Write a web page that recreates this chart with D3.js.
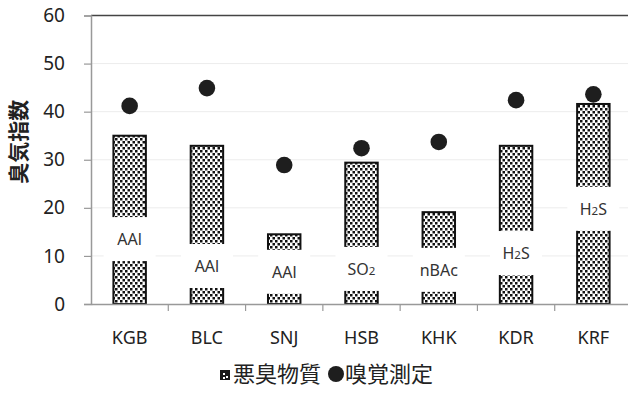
<!DOCTYPE html>
<html>
<head>
<meta charset="utf-8">
<script src="https://cdn.jsdelivr.net/npm/d3@7"></script>
<style>
  html, body { margin: 0; padding: 0; background: #fff; }
  svg { display: block; }
</style>
</head>
<body>
<svg id="chart" width="628" height="396"></svg>
<script>
// Sites and measurements
const categories = ["KGB", "BLC", "SNJ", "HSB", "KHK", "KDR", "KRF"];
const odorantIndex = [35.0, 32.9, 14.5, 29.4, 19.1, 32.9, 41.6];   // 悪臭物質
const sensoryIndex = [41.2, 44.9, 28.9, 32.4, 33.7, 42.4, 43.6];   // 嗅覚測定
// Substance label for each bar: main text, subscript digit, trailing text
const substanceMain = ["AAl", "AAl", "AAl", "SO", "nBAc", "H", "H"];
const substanceSub  = ["", "", "", "2", "", "2", "2"];
const substanceTail = ["", "", "", "", "", "S", "S"];
const labelAt = [13.5, 7.9, 6.7, 7.3, 7.1, 10.6, 19.8];          // label centre, index units
const yTicks = [0, 10, 20, 30, 40, 50, 60];
const seriesNames = ["悪臭物質", "嗅覚測定"];
const axisTitle = "臭気指数";

const svg = d3.select("#chart");
const margin = { left: 91, right: 632, top: 15.5, bottom: 304 };

const y = d3.scaleLinear().domain([0, 60]).range([margin.bottom, margin.top]);
const xBand = d3.scaleBand().domain(categories).range([margin.left, margin.right])
  .paddingInner(0.58).paddingOuter(0.29);
const xCat = d3.scaleBand().domain(categories).range([margin.left, margin.right]).padding(0);

// dotted fill for the odorant bars
const defs = svg.append("defs");
const pat = defs.append("pattern").attr("id", "dots")
  .attr("patternUnits", "userSpaceOnUse").attr("width", 5).attr("height", 6);
pat.append("rect").attr("width", 5).attr("height", 6).attr("fill", "#fff");
pat.append("rect").attr("x", 0).attr("y", 0).attr("width", 2.5).attr("height", 2.5).attr("fill", "#111");
pat.append("rect").attr("x", 2.5).attr("y", 3).attr("width", 2.5).attr("height", 2.5).attr("fill", "#111");

// gridlines
svg.append("g").selectAll("line").data(yTicks.filter(d => d > 0 && d < 60)).join("line")
  .attr("x1", margin.left).attr("x2", 628)
  .attr("y1", d => y(d)).attr("y2", d => y(d))
  .attr("stroke", "#ececec").attr("stroke-width", 1);

// top border
svg.append("line").attr("x1", margin.left).attr("x2", 628)
  .attr("y1", y(60)).attr("y2", y(60))
  .attr("stroke", "#444").attr("stroke-width", 1.3);

// y axis
const yAxis = svg.append("g").attr("transform", `translate(${margin.left},0)`)
  .call(d3.axisLeft(y).tickValues(yTicks).tickSize(7).tickPadding(19));
yAxis.select(".domain").attr("stroke", "#999").attr("stroke-width", 1.5);
yAxis.selectAll(".tick line").attr("stroke", "#999").attr("stroke-width", 1.2);
yAxis.selectAll(".tick text").attr("font-family", "'Noto Sans', sans-serif")
  .attr("font-size", 19).attr("fill", "#222");

// bars
const bars = svg.append("g");
bars.selectAll("rect").data(categories).join("rect")
  .attr("x", d => xBand(d))
  .attr("y", (d, i) => y(odorantIndex[i]))
  .attr("width", xBand.bandwidth())
  .attr("height", (d, i) => y(0) - y(odorantIndex[i]))
  .attr("fill", "url(#dots)")
  .attr("stroke", "#111").attr("stroke-width", 2);

// substance labels on white boxes
const lab = svg.append("g").selectAll("g").data(categories).join("g")
  .attr("transform", (d, i) => `translate(${xBand(d) + xBand.bandwidth() / 2},${y(labelAt[i])})`);
lab.append("rect").attr("x", -26).attr("y", -22).attr("width", 52).attr("height", 44).attr("fill", "#fff");
const lt = lab.append("text").attr("text-anchor", "middle").attr("dy", "0.36em")
  .attr("font-family", "'Noto Sans', sans-serif").attr("font-size", 16).attr("fill", "#333");
lt.append("tspan").text((d, i) => substanceMain[i]);
lt.append("tspan").attr("font-size", 11.5).text((d, i) => substanceSub[i]);
lt.append("tspan").text((d, i) => substanceTail[i]);

// x axis
const xAxis = svg.append("g").attr("transform", `translate(0,${margin.bottom})`)
  .call(d3.axisBottom(xCat).tickSize(0).tickPadding(27));
xAxis.select(".domain").attr("stroke", "#999").attr("stroke-width", 1.5);
xAxis.selectAll(".tick text").attr("font-family", "'Noto Sans', sans-serif")
  .attr("font-size", 18).attr("fill", "#222");
svg.append("g").selectAll("line").data(categories.slice(1)).join("line")
  .attr("x1", d => xCat(d)).attr("x2", d => xCat(d))
  .attr("y1", margin.bottom).attr("y2", margin.bottom + 7)
  .attr("stroke", "#999").attr("stroke-width", 1.2);

// sensory measurement points
svg.append("g").selectAll("circle").data(categories).join("circle")
  .attr("cx", d => xBand(d) + xBand.bandwidth() / 2)
  .attr("cy", (d, i) => y(sensoryIndex[i]))
  .attr("r", 8.3).attr("fill", "#1e1e1e");

// y axis title
svg.append("text")
  .attr("transform", `translate(26,${(margin.top + margin.bottom) / 2 - 18}) rotate(-90)`)
  .attr("text-anchor", "middle")
  .attr("font-family", "'Noto Sans CJK JP', sans-serif").attr("font-weight", "bold")
  .attr("font-size", 21).attr("fill", "#222").text(axisTitle);

// legend
const lg = svg.append("g").attr("transform", "translate(220,382)");
lg.append("rect").attr("x", 0).attr("y", -12).attr("width", 10).attr("height", 10).attr("fill", "#1a1a1a");
lg.append("rect").attr("x", 3).attr("y", -9).attr("width", 2).attr("height", 2).attr("fill", "#fff");
lg.append("rect").attr("x", 6).attr("y", -6).attr("width", 2).attr("height", 2).attr("fill", "#fff");
lg.append("rect").attr("x", 3).attr("y", -5).attr("width", 2).attr("height", 2).attr("fill", "#fff");
lg.append("text").attr("x", 13).attr("y", 0)
  .attr("font-family", "'Noto Sans CJK JP', sans-serif").attr("font-size", 22).attr("fill", "#222")
  .text(seriesNames[0]);
lg.append("circle").attr("cx", 116).attr("cy", -8).attr("r", 8).attr("fill", "#1e1e1e");
lg.append("text").attr("x", 125).attr("y", 0)
  .attr("font-family", "'Noto Sans CJK JP', sans-serif").attr("font-size", 22).attr("fill", "#222")
  .text(seriesNames[1]);
</script>
</body>
</html>
